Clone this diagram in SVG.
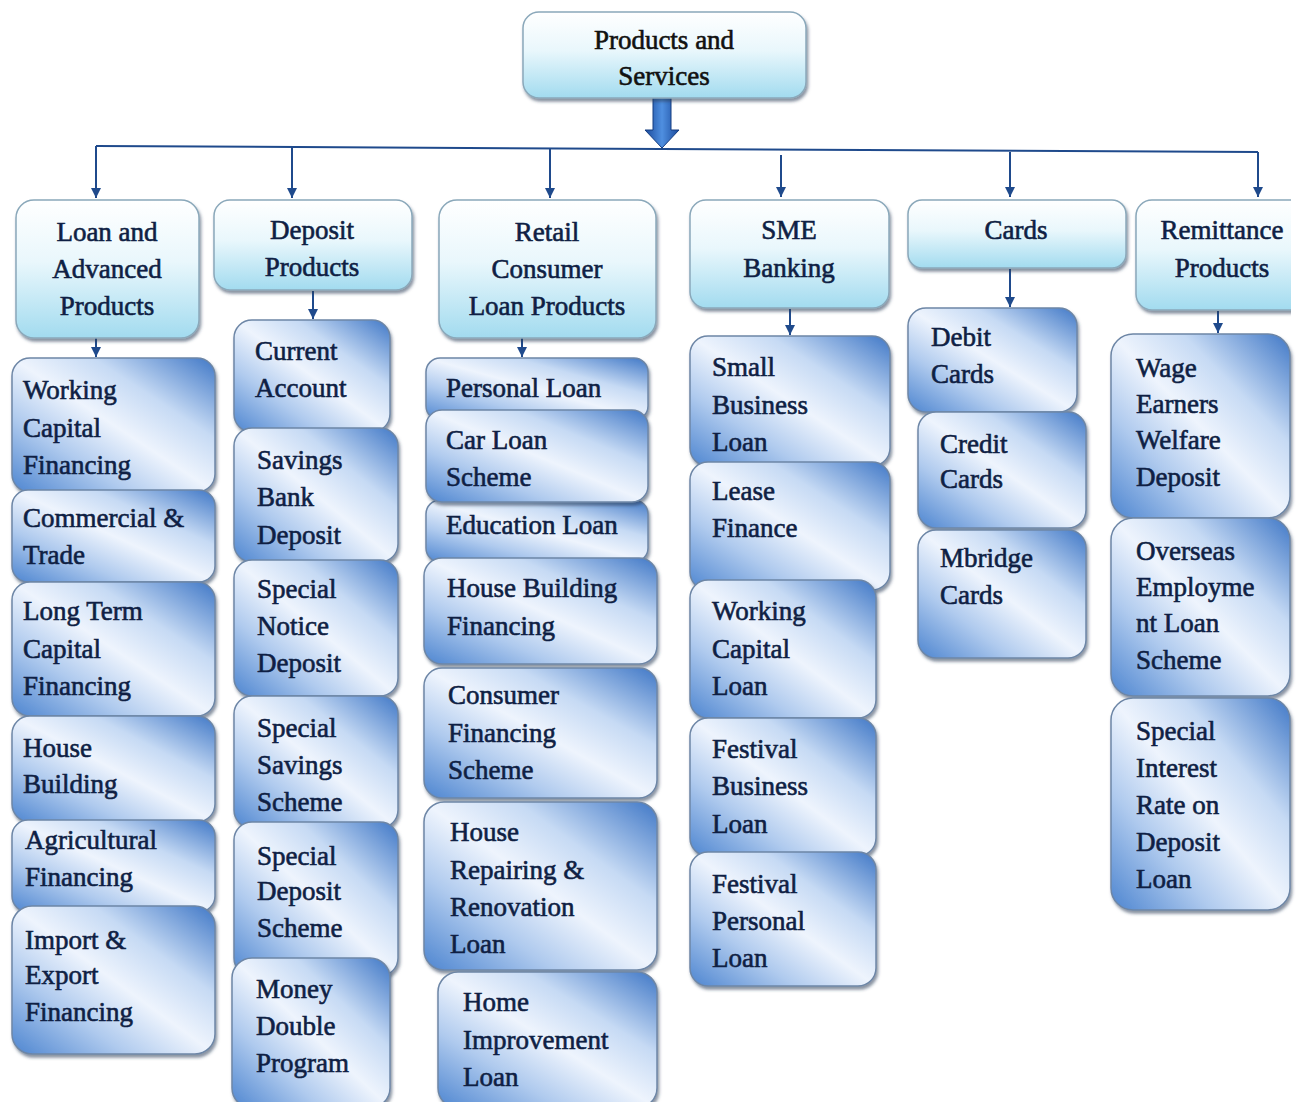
<svg xmlns="http://www.w3.org/2000/svg" width="1302" height="1102" viewBox="0 0 1302 1102">
<defs>
<linearGradient id="g1" x1="0" y1="0" x2="0" y2="1">
<stop offset="0" stop-color="#ffffff"/>
<stop offset="0.45" stop-color="#e9f7fc"/>
<stop offset="1" stop-color="#a2dbef"/>
</linearGradient>
<linearGradient id="g2" x1="0" y1="1" x2="1" y2="0">
<stop offset="0" stop-color="#4d85d0"/>
<stop offset="0.28" stop-color="#afcaee"/>
<stop offset="0.5" stop-color="#eef4fd"/>
<stop offset="0.7" stop-color="#c6daf4"/>
<stop offset="1" stop-color="#3f77c6"/>
</linearGradient>
<linearGradient id="gArrow" x1="0" y1="0" x2="1" y2="0">
<stop offset="0" stop-color="#1a4a9c"/>
<stop offset="0.5" stop-color="#4f8fe0"/>
<stop offset="1" stop-color="#1a4a9c"/>
</linearGradient>
<filter id="sh" x="-10%" y="-10%" width="125%" height="130%">
<feDropShadow dx="1.5" dy="3" stdDeviation="1.8" flood-color="#2a3a55" flood-opacity="0.55"/>
</filter>
<marker id="ah" markerUnits="userSpaceOnUse" markerWidth="12" markerHeight="12" refX="10" refY="5" orient="auto">
<path d="M0,0 L10,5 L0,10 z" fill="#1f4a8c"/>
</marker>
<clipPath id="clipR"><rect x="0" y="0" width="1291" height="1102"/></clipPath>
</defs>
<style>
.l1{fill:url(#g1);stroke:#8aa8ba;stroke-width:1.5;filter:url(#sh)}
.l2{fill:url(#g2);stroke:#6d86a6;stroke-width:1.5;filter:url(#sh)}
text{font-family:"Liberation Serif","Times New Roman",serif;font-size:27px;fill:#0f1f44;stroke:#0f1f44;stroke-width:0.6}
.c{text-anchor:middle}
.t{fill:#111;stroke:#111}
.con{stroke:#1f4a8c;stroke-width:2;fill:none}
</style>
<rect width="1302" height="1102" fill="#ffffff"/>

<g id="connectors">
<polygon points="653,97 671,97 671,130 679,130 662,148 645,130 653,130" fill="url(#gArrow)" stroke="#153d80" stroke-width="1"/>
<line class="con" x1="96" y1="146" x2="1258" y2="152"/>
<line class="con" x1="96" y1="146" x2="96" y2="198" marker-end="url(#ah)"/>
<line class="con" x1="292" y1="147" x2="292" y2="198" marker-end="url(#ah)"/>
<line class="con" x1="550" y1="148" x2="550" y2="198" marker-end="url(#ah)"/>
<line class="con" x1="781" y1="155" x2="781" y2="197" marker-end="url(#ah)"/>
<line class="con" x1="1010" y1="152" x2="1010" y2="197" marker-end="url(#ah)"/>
<line class="con" x1="1258" y1="152" x2="1258" y2="197" marker-end="url(#ah)"/>
<line class="con" x1="96" y1="338" x2="96" y2="357" marker-end="url(#ah)"/>
<line class="con" x1="313" y1="291" x2="313" y2="319" marker-end="url(#ah)"/>
<line class="con" x1="522" y1="338" x2="522" y2="357" marker-end="url(#ah)"/>
<line class="con" x1="790" y1="309" x2="790" y2="335" marker-end="url(#ah)"/>
<line class="con" x1="1010" y1="269" x2="1010" y2="307" marker-end="url(#ah)"/>
<line class="con" x1="1218" y1="311" x2="1218" y2="333" marker-end="url(#ah)"/>
</g>

<g id="root">
<rect class="l1" x="523" y="12" width="283" height="86" rx="16"/>
<text class="c t" x="664" y="49">Products and</text>
<text class="c t" x="664" y="85">Services</text>
</g>

<g id="loan-advanced">
<rect class="l1" x="16" y="200" width="183" height="138" rx="18"/>
<text class="c" x="107" y="241">Loan and</text>
<text class="c" x="107" y="278">Advanced</text>
<text class="c" x="107" y="315">Products</text>
</g>
<g id="deposit-products">
<rect class="l1" x="214" y="200" width="198" height="90" rx="16"/>
<text class="c" x="312" y="239">Deposit</text>
<text class="c" x="312" y="276">Products</text>
</g>
<g id="retail-consumer">
<rect class="l1" x="439" y="200" width="217" height="138" rx="18"/>
<text class="c" x="547" y="241">Retail</text>
<text class="c" x="547" y="278">Consumer</text>
<text class="c" x="547" y="315">Loan Products</text>
</g>
<g id="sme-banking">
<rect class="l1" x="690" y="200" width="199" height="108" rx="16"/>
<text class="c" x="789" y="239">SME</text>
<text class="c" x="789" y="277">Banking</text>
</g>
<g id="cards">
<rect class="l1" x="908" y="200" width="218" height="68" rx="14"/>
<text class="c" x="1016" y="239">Cards</text>
</g>
<g id="remittance-products" clip-path="url(#clipR)">
<rect class="l1" x="1136" y="200" width="180" height="110" rx="16"/>
<text class="c" x="1222" y="239">Remittance</text>
<text class="c" x="1222" y="277">Products</text>
</g>

<g id="working-capital-financing">
<rect class="l2" x="12" y="358" width="203" height="134" rx="18"/>
<text x="23" y="399">Working</text><text x="23" y="437">Capital</text><text x="23" y="474">Financing</text>
</g>
<g id="commercial-trade">
<rect class="l2" x="12" y="490" width="203" height="92" rx="16"/>
<text x="23" y="527">Commercial &amp;</text><text x="23" y="564">Trade</text>
</g>
<g id="long-term-capital">
<rect class="l2" x="12" y="582" width="203" height="134" rx="18"/>
<text x="23" y="620">Long Term</text><text x="23" y="658">Capital</text><text x="23" y="695">Financing</text>
</g>
<g id="house-building">
<rect class="l2" x="12" y="716" width="203" height="106" rx="18"/>
<text x="23" y="757">House</text><text x="23" y="793">Building</text>
</g>
<g id="agricultural-financing">
<rect class="l2" x="12" y="820" width="203" height="92" rx="16"/>
<text x="25" y="849">Agricultural</text><text x="25" y="886">Financing</text>
</g>
<g id="import-export">
<rect class="l2" x="12" y="906" width="203" height="148" rx="20"/>
<text x="25" y="949">Import &amp;</text><text x="25" y="984">Export</text><text x="25" y="1021">Financing</text>
</g>

<g id="current-account">
<rect class="l2" x="234" y="320" width="156" height="112" rx="18"/>
<text x="255" y="360">Current</text><text x="255" y="397">Account</text>
</g>
<g id="savings-bank-deposit">
<rect class="l2" x="234" y="428" width="164" height="134" rx="18"/>
<text x="257" y="469">Savings</text><text x="257" y="506">Bank</text><text x="257" y="544">Deposit</text>
</g>
<g id="special-notice-deposit">
<rect class="l2" x="234" y="560" width="164" height="136" rx="18"/>
<text x="257" y="598">Special</text><text x="257" y="635">Notice</text><text x="257" y="672">Deposit</text>
</g>
<g id="special-savings-scheme">
<rect class="l2" x="234" y="696" width="164" height="132" rx="18"/>
<text x="257" y="737">Special</text><text x="257" y="774">Savings</text><text x="257" y="811">Scheme</text>
</g>
<g id="special-deposit-scheme">
<rect class="l2" x="234" y="822" width="164" height="154" rx="18"/>
<text x="257" y="865">Special</text><text x="257" y="900">Deposit</text><text x="257" y="937">Scheme</text>
</g>
<g id="money-double-program">
<rect class="l2" x="232" y="958" width="158" height="150" rx="20"/>
<text x="256" y="998">Money</text><text x="256" y="1035">Double</text><text x="256" y="1072">Program</text>
</g>

<g id="personal-loan">
<rect class="l2" x="426" y="358" width="222" height="62" rx="14"/>
<text x="446" y="397">Personal Loan</text>
</g>
<g id="education-loan">
<rect class="l2" x="426" y="500" width="222" height="62" rx="14"/>
<text x="446" y="534">Education Loan</text>
</g>
<g id="car-loan-scheme">
<rect class="l2" x="426" y="410" width="222" height="92" rx="16"/>
<text x="446" y="449">Car Loan</text><text x="446" y="486">Scheme</text>
</g>
<g id="house-building-financing">
<rect class="l2" x="424" y="558" width="233" height="106" rx="18"/>
<text x="447" y="597">House Building</text><text x="447" y="635">Financing</text>
</g>
<g id="consumer-financing-scheme">
<rect class="l2" x="424" y="668" width="233" height="130" rx="18"/>
<text x="448" y="704">Consumer</text><text x="448" y="742">Financing</text><text x="448" y="779">Scheme</text>
</g>
<g id="house-repairing">
<rect class="l2" x="424" y="802" width="233" height="168" rx="20"/>
<text x="450" y="841">House</text><text x="450" y="879">Repairing &amp;</text><text x="450" y="916">Renovation</text><text x="450" y="953">Loan</text>
</g>
<g id="home-improvement-loan">
<rect class="l2" x="438" y="972" width="219" height="136" rx="20"/>
<text x="463" y="1011">Home</text><text x="463" y="1049">Improvement</text><text x="463" y="1086">Loan</text>
</g>

<g id="small-business-loan">
<rect class="l2" x="690" y="336" width="200" height="130" rx="18"/>
<text x="712" y="376">Small</text><text x="712" y="414">Business</text><text x="712" y="451">Loan</text>
</g>
<g id="lease-finance">
<rect class="l2" x="690" y="462" width="200" height="128" rx="18"/>
<text x="712" y="500">Lease</text><text x="712" y="537">Finance</text>
</g>
<g id="working-capital-loan">
<rect class="l2" x="690" y="580" width="186" height="138" rx="18"/>
<text x="712" y="620">Working</text><text x="712" y="658">Capital</text><text x="712" y="695">Loan</text>
</g>
<g id="festival-business-loan">
<rect class="l2" x="690" y="718" width="186" height="138" rx="18"/>
<text x="712" y="758">Festival</text><text x="712" y="795">Business</text><text x="712" y="833">Loan</text>
</g>
<g id="festival-personal-loan">
<rect class="l2" x="690" y="852" width="186" height="134" rx="18"/>
<text x="712" y="893">Festival</text><text x="712" y="930">Personal</text><text x="712" y="967">Loan</text>
</g>

<g id="debit-cards">
<rect class="l2" x="908" y="308" width="169" height="104" rx="18"/>
<text x="931" y="346">Debit</text><text x="931" y="383">Cards</text>
</g>
<g id="credit-cards">
<rect class="l2" x="918" y="412" width="168" height="116" rx="18"/>
<text x="940" y="453">Credit</text><text x="940" y="488">Cards</text>
</g>
<g id="mbridge-cards">
<rect class="l2" x="918" y="530" width="168" height="128" rx="18"/>
<text x="940" y="567">Mbridge</text><text x="940" y="604">Cards</text>
</g>

<g id="wage-earners">
<rect class="l2" x="1111" y="334" width="179" height="184" rx="22"/>
<text x="1136" y="377">Wage</text><text x="1136" y="413">Earners</text><text x="1136" y="449">Welfare</text><text x="1136" y="486">Deposit</text>
</g>
<g id="overseas-employment">
<rect class="l2" x="1111" y="518" width="179" height="178" rx="22"/>
<text x="1136" y="560">Overseas</text><text x="1136" y="596">Employme</text><text x="1136" y="632">nt Loan</text><text x="1136" y="669">Scheme</text>
</g>
<g id="special-interest-rate">
<rect class="l2" x="1111" y="698" width="179" height="212" rx="22"/>
<text x="1136" y="740">Special</text><text x="1136" y="777">Interest</text><text x="1136" y="814">Rate on</text><text x="1136" y="851">Deposit</text><text x="1136" y="888">Loan</text>
</g>
</svg>
